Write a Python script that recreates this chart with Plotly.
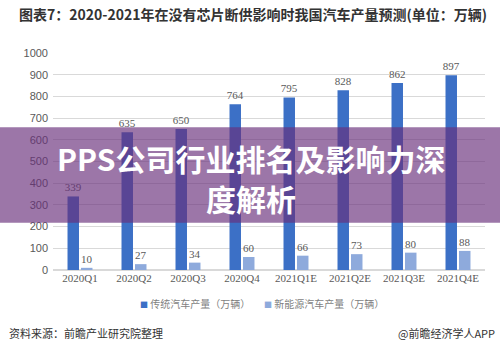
import plotly.graph_objects as go

categories = ["2020Q1", "2020Q2", "2020Q3", "2020Q4", "2021Q1E", "2021Q2E", "2021Q3E", "2021Q4E"]
traditional = [339, 635, 650, 764, 795, 828, 862, 897]
new_energy = [10, 27, 34, 60, 66, 73, 80, 88]
series_names = ["传统汽车产量（万辆）", "新能源汽车产量（万辆）"]
series_colors = ["#3C70C6", "#8EAADC"]
y_ticks = [0, 100, 200, 300, 400, 500, 600, 700, 800, 900, 1000]

title_text = "图表7：2020-2021年在没有芯片断供影响时我国汽车产量预测(单位：万辆)"
banner_line1 = "PPS公司行业排名及影响力深"
banner_line2 = "度解析"
source_text = "资料来源：前瞻产业研究院整理"
brand_text = "@前瞻经济学人APP"

W, H = 500, 351
ML, MR, MT, MB = 53, 15, 52.5, 80.5
PW, PH = W - ML - MR, H - MT - MB

def px_x(px):
    return (px - ML) / PW

def px_y(py):
    return (H - MB - py) / PH

CJK = "Noto Sans CJK SC"
SERIF = "Liberation Serif, " + CJK
SANS = "Liberation Sans, " + CJK

fig = go.Figure()
for name, vals, col in zip(series_names, [traditional, new_energy], series_colors):
    fig.add_trace(go.Bar(
        x=categories, y=vals, name=name,
        marker=dict(color=col, line=dict(width=0)),
        text=vals, textposition="outside", cliponaxis=False,
        constraintext="none",
        textfont=dict(family=SERIF, size=11, color="#595959"),
    ))

fig.update_layout(
    width=W, height=H,
    margin=dict(l=ML, r=MR, t=MT, b=MB),
    paper_bgcolor="white", plot_bgcolor="white",
    barmode="group", bargap=0.5, bargroupgap=0.15,
    showlegend=False,
    title=dict(text=title_text, x=253 / W, xanchor="center", xref="container",
               y=1 - 15 / H, yanchor="middle", yref="container",
               font=dict(family=CJK, size=14, color="#333333", weight="bold")),
    xaxis=dict(tickfont=dict(family=SERIF, size=11, color="#595959"),
               showline=False, ticks="", showgrid=False),
    yaxis=dict(range=[0, 1000], tickvals=y_ticks,
               tickfont=dict(family=SANS, size=11, color="#595959"),
               showgrid=True, gridcolor="#d9d9d9", gridwidth=1,
               zeroline=True, zerolinecolor="#d9d9d9", showline=False,
               ticks="", ticklabelstandoff=4),
    font=dict(family=CJK),
)

# legend drawn as small square swatches + labels
legend_x = [138, 262]
for name, col, lx in zip(series_names, series_colors, legend_x):
    fig.add_annotation(
        text=f"<span style='color:{col};font-size:8px'>■</span> {name}",
        xref="paper", yref="paper", x=px_x(lx), y=px_y(304),
        showarrow=False, xanchor="left", yanchor="middle",
        font=dict(family=CJK, size=10, color="#7f7f7f"))

# translucent banner overlay
fig.add_shape(type="rect", xref="paper", yref="paper",
              x0=px_x(-5), x1=px_x(W + 5), y0=px_y(223), y1=px_y(127),
              fillcolor="rgba(104,47,123,0.66)", line=dict(width=0), layer="above")

fig.add_annotation(text=banner_line1, xref="paper", yref="paper",
                   x=px_x(251), y=px_y(158), showarrow=False,
                   xanchor="center", yanchor="middle",
                   font=dict(family=CJK, size=30, color="white", weight="bold"))
fig.add_annotation(text=banner_line2, xref="paper", yref="paper",
                   x=px_x(251), y=px_y(198), showarrow=False,
                   xanchor="center", yanchor="middle",
                   font=dict(family=CJK, size=30, color="white", weight="bold"))

fig.add_annotation(text=source_text, xref="paper", yref="paper",
                   x=px_x(7), y=px_y(334), showarrow=False,
                   xanchor="left", yanchor="middle",
                   font=dict(family=CJK, size=11, color="#333333"))
fig.add_annotation(text=brand_text, xref="paper", yref="paper",
                   x=px_x(497), y=px_y(334), showarrow=False,
                   xanchor="right", yanchor="middle",
                   font=dict(family=CJK, size=11, color="#333333"))

fig.write_html("out.html")
